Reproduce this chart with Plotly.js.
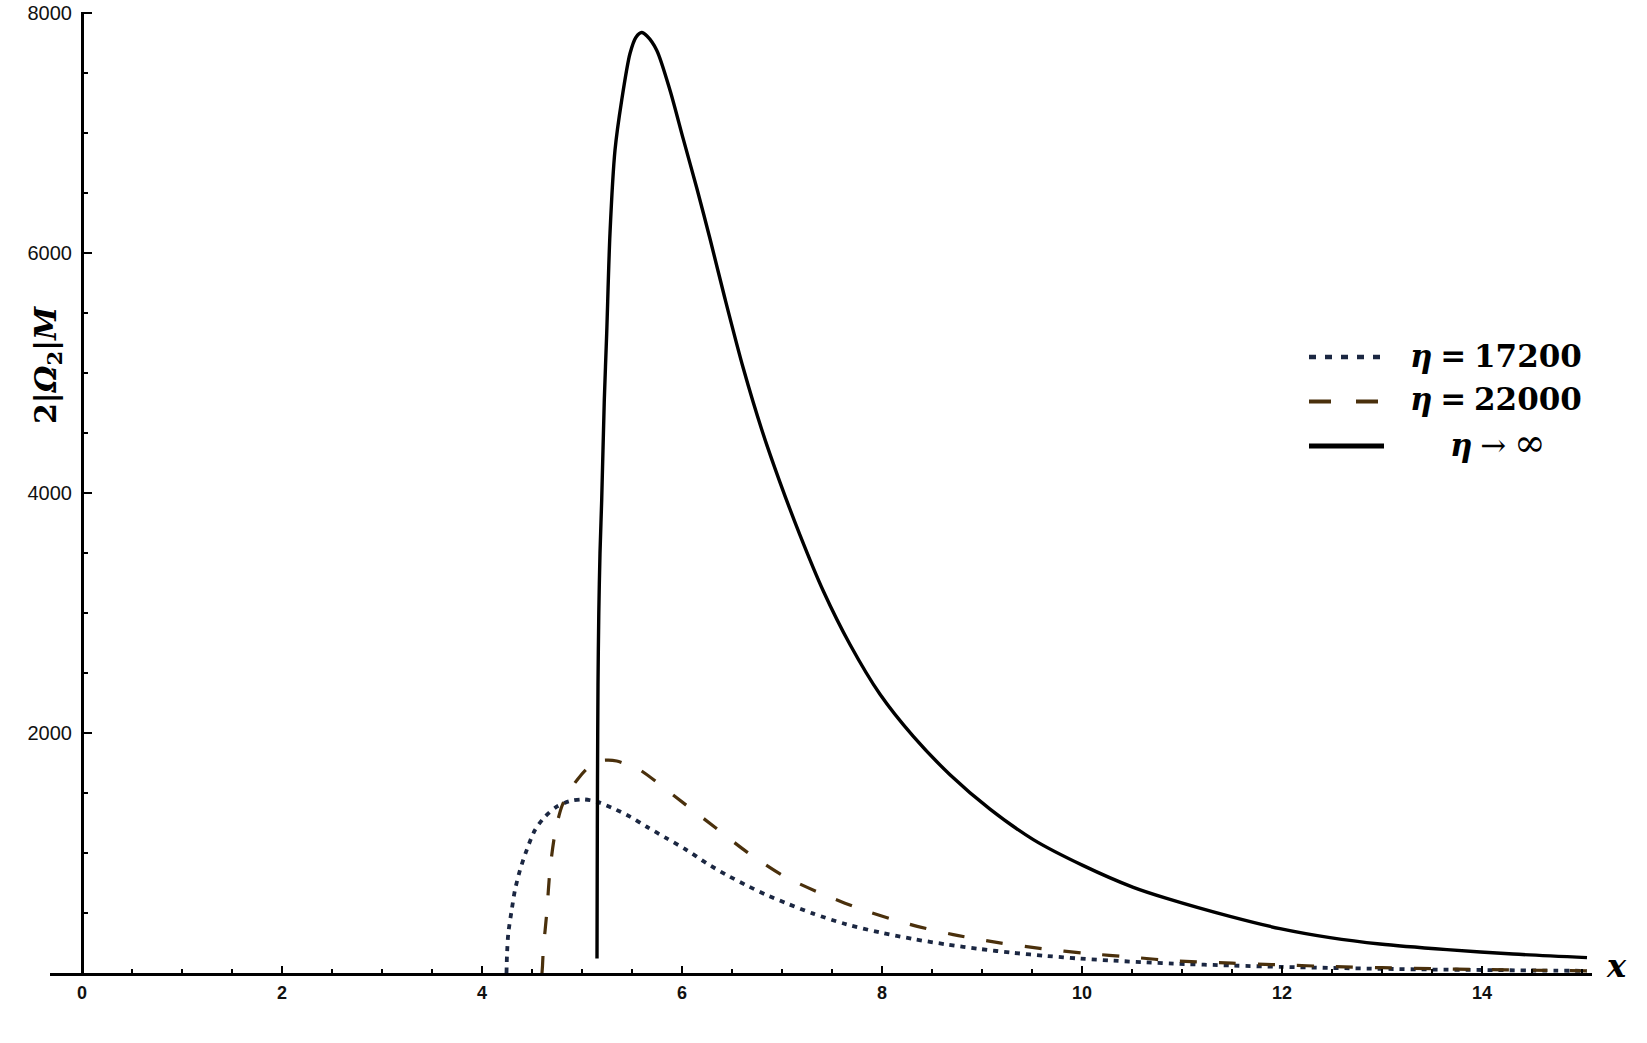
<!DOCTYPE html>
<html>
<head>
<meta charset="utf-8">
<script src="https://cdn.plot.ly/plotly-3.0.1.min.js"></script>
<style>
  html, body { margin: 0; padding: 0; background: #ffffff; }
  #chart { width: 1647px; height: 1043px; }
</style>
</head>
<body>
<div id="chart"></div>
<script>
// ---- data ----
// eta -> infinity (solid)
const xInf = [5.150, 5.152, 5.155, 5.160, 5.168, 5.180, 5.197, 5.223, 5.247, 5.280, 5.330, 5.397, 5.480, 5.540, 5.597, 5.650, 5.747, 5.880, 6.013, 6.147, 6.280, 6.430, 6.613, 6.797, 6.980, 7.180, 7.413, 7.680, 7.980, 8.313, 8.680, 9.080, 9.513, 10.013, 10.513, 10.847, 11.480, 11.980, 12.480, 12.980, 13.650, 14.310, 15.050];
const yInf = [120, 800, 1600, 2400, 3000, 3500, 3942, 4775, 5331, 6167, 6858, 7275, 7664, 7800, 7839, 7810, 7692, 7358, 6950, 6545, 6120, 5620, 5040, 4530, 4090, 3650, 3184, 2738, 2323, 1972, 1653, 1366, 1112, 895, 714, 622, 472, 370, 295, 242, 195, 158, 128];

// eta = 22000 (dashed)
const x22000 = [4.600, 4.605, 4.613, 4.647, 4.680, 4.730, 4.797, 4.880, 4.963, 5.060, 5.180, 5.263, 5.347, 5.460, 5.580, 5.947, 6.313, 6.647, 7.013, 7.413, 7.847, 8.280, 8.713, 9.147, 9.597, 10.047, 10.497, 10.947, 11.500, 12.000, 12.500, 13.000, 13.500, 14.000, 14.500, 15.050];
const y22000 = [0, 60, 192, 497, 858, 1164, 1386, 1525, 1622, 1710, 1769, 1775, 1767, 1735, 1692, 1460, 1225, 1010, 810, 655, 515, 405, 320, 255, 203, 163, 132, 100, 82, 67, 54, 44, 36, 29, 23, 18];

// eta = 17200 (dotted)
const x17200 = [4.245, 4.250, 4.263, 4.297, 4.330, 4.380, 4.447, 4.530, 4.630, 4.747, 4.880, 5.013, 5.147, 5.313, 5.480, 5.647, 5.847, 6.047, 6.247, 6.447, 6.647, 6.847, 7.047, 7.313, 7.647, 7.980, 8.313, 8.647, 8.980, 9.313, 9.647, 9.980, 10.313, 10.647, 10.913, 11.500, 12.000, 12.500, 13.000, 13.500, 14.000, 14.500, 15.050];
const y17200 = [0, 150, 331, 525, 692, 858, 1025, 1192, 1303, 1386, 1433, 1447, 1428, 1372, 1303, 1219, 1122, 1025, 914, 817, 730, 650, 580, 495, 405, 338, 283, 238, 200, 168, 142, 120, 103, 88, 78, 62, 51, 42, 35, 29, 25, 21, 18];

// axis ticks and labels
const xTickVals = [0, 2, 4, 6, 8, 10, 12, 14];
const yTickVals = [2000, 4000, 6000, 8000];
const yTickText = ['2000', '4000', '6000', '8000'];
const seriesNames = ['η = 17200', 'η = 22000', 'η → ∞'];

// ---- styling ----
const colDot = '#1b2742';
const colDash = '#4a300c';
const colSolid = '#000000';

const xRange = [-0.32, 15.1];
const yAxisPos = (0 - xRange[0]) / (xRange[1] - xRange[0]);

const traces = [
  { x: x17200, y: y17200, mode: 'lines', name: seriesNames[0], showlegend: false,
    line: { color: colDot, width: 3.8, dash: '5px,6px', shape: 'spline', smoothing: 0.8 }, hoverinfo: 'skip' },
  { x: x22000, y: y22000, mode: 'lines', name: seriesNames[1], showlegend: false,
    line: { color: colDash, width: 3.2, dash: '17px,22px', shape: 'spline', smoothing: 0.8 }, hoverinfo: 'skip' },
  { x: xInf, y: yInf, mode: 'lines', name: seriesNames[2], showlegend: false,
    line: { color: colSolid, width: 3.4, shape: 'spline', smoothing: 0.8 }, hoverinfo: 'skip' }
];

// pixel -> paper helpers for the hand-drawn legend
const L = 50, R = 55, T = 12, B = 70, W = 1647, H = 1043;
const pw = W - L - R, ph = H - T - B;
const px = v => (v - L) / pw;
const py = v => (H - B - v) / ph;

const shapes = [
  { type: 'line', xref: 'paper', yref: 'paper', x0: px(1309), x1: px(1383), y0: py(357), y1: py(357),
    line: { color: colDot, width: 4.5, dash: '7px,9px' } },
  { type: 'line', xref: 'paper', yref: 'paper', x0: px(1309), x1: px(1379), y0: py(401.5), y1: py(401.5),
    line: { color: colDash, width: 4, dash: '22px,25px' } },
  { type: 'line', xref: 'paper', yref: 'paper', x0: px(1309), x1: px(1384), y0: py(446), y1: py(446),
    line: { color: colSolid, width: 5 } }
];

const serif = 'DejaVu Serif, Liberation Serif, serif';
const sp = '\u2005';
const annotations = [
  { xref: 'paper', yref: 'paper', x: px(1408), y: py(356), xanchor: 'left', yanchor: 'middle', showarrow: false,
    text: '<b><i>η</i>' + sp + '=' + sp + '17200</b>', font: { family: serif, size: 31, color: '#000' } },
  { xref: 'paper', yref: 'paper', x: px(1408), y: py(399), xanchor: 'left', yanchor: 'middle', showarrow: false,
    text: '<b><i>η</i>' + sp + '=' + sp + '22000</b>', font: { family: serif, size: 31, color: '#000' } },
  { xref: 'paper', yref: 'paper', x: px(1448), y: py(443), xanchor: 'left', yanchor: 'middle', showarrow: false,
    text: '<b><i>η</i></b>' + sp + '→' + sp + '<span style="font-size:38px">∞</span>', font: { family: serif, size: 31, color: '#000' } },
  // y-axis label
  { xref: 'paper', yref: 'paper', x: px(47), y: py(365), xanchor: 'center', yanchor: 'middle', showarrow: false,
    textangle: -90, text: '<b>2|<i>Ω</i><sub>2</sub>|<i>M</i></b>', font: { family: serif, size: 30, color: '#000' } },
  // x-axis label
  { xref: 'paper', yref: 'paper', x: px(1616), y: py(966), xanchor: 'center', yanchor: 'middle', showarrow: false,
    text: '<b><i>x</i></b>', font: { family: serif, size: 32, color: '#000' } }
];

const layout = {
  width: W, height: H,
  margin: { l: L, r: R, t: T, b: B, pad: 0 },
  paper_bgcolor: '#ffffff', plot_bgcolor: '#ffffff',
  showlegend: false,
  xaxis: {
    range: xRange, showgrid: false, zeroline: false,
    showline: true, linecolor: '#000', linewidth: 3,
    tickmode: 'array', tickvals: xTickVals, ticktext: xTickVals.map(String),
    ticks: 'inside', ticklen: 7, tickwidth: 2, tickcolor: '#000',
    minor: { tickmode: 'linear', tick0: 0, dtick: 0.5, ticks: 'inside', ticklen: 4, tickwidth: 1.5, tickcolor: '#000', showgrid: false },
    tickfont: { family: 'Liberation Sans, Arial, sans-serif', size: 18, color: '#111', weight: 'bold' },
    ticklabelstandoff: 1
  },
  yaxis: {
    range: [0, 8010], anchor: 'free', position: yAxisPos,
    showgrid: false, zeroline: false,
    showline: true, linecolor: '#000', linewidth: 2.5,
    tickmode: 'array', tickvals: yTickVals, ticktext: yTickText,
    ticks: 'inside', ticklen: 8, tickwidth: 2, tickcolor: '#000',
    minor: { tickmode: 'linear', tick0: 0, dtick: 500, ticks: 'inside', ticklen: 4, tickwidth: 1.5, tickcolor: '#000', showgrid: false },
    tickfont: { family: 'Liberation Sans, Arial, sans-serif', size: 20, color: '#111' },
    ticklabelstandoff: 5
  },
  shapes: shapes,
  annotations: annotations
};

Plotly.newPlot('chart', traces, layout, { staticPlot: true, displayModeBar: false });
</script>
</body>
</html>
